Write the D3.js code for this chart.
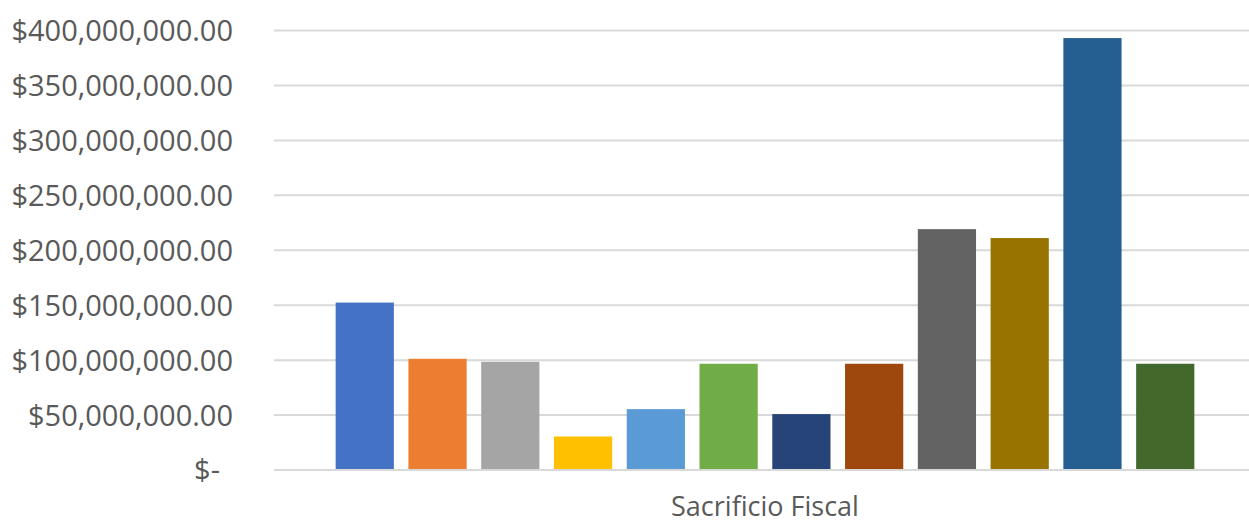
<!DOCTYPE html>
<html lang="es">
<head>
    <meta charset="UTF-8">
    <title>Sacrificio Fiscal</title>
    <style>
        body { margin: 0; background: #fff; }
        svg { display: block; }
    </style>
</head>
<body>
<svg id="svgId"></svg>
<script src="https://cdn.jsdelivr.net/npm/d3@7/dist/d3.min.js"></script>
<script>

    // Data
    const categories = ['Sacrificio Fiscal']
    const seriesNames = ['Serie 1', 'Serie 2', 'Serie 3', 'Serie 4', 'Serie 5', 'Serie 6',
                         'Serie 7', 'Serie 8', 'Serie 9', 'Serie 10', 'Serie 11', 'Serie 12']
    const seriesValues = [152400000, 101200000, 98500000, 30500000, 55400000, 96700000,
                          50900000, 96700000, 219200000, 211100000, 393100000, 96700000]
    const seriesColors = ['#4472C4', '#ED7D31', '#A5A5A5', '#FFC000', '#5B9BD5', '#70AD47',
                          '#264478', '#9E480E', '#636363', '#997300', '#255E91', '#43682B']
    const yTicks = [0, 50000000, 100000000, 150000000, 200000000, 250000000, 300000000, 350000000, 400000000]

    // Svg dimensions
    const svgWidth = 1249
    const svgHeight = 524

    const plot = {left: 274, right: 1256, top: 30.5, bottom: 470}

    const svg = d3.select('#svgId')
        .attr('width', svgWidth)
        .attr('height', svgHeight)

    const font = "'Open Sans', sans-serif"
    const textColor = '#595959'

    // Scales
    const x0 = d3.scaleBand().domain(categories).range([plot.left, plot.right]).paddingOuter(0.0718)
    const x1 = d3.scaleBand().domain(seriesNames).range([0, x0.bandwidth()]).paddingInner(0.2)
    const yScale = d3.scaleLinear().domain([0, 400000000]).range([plot.bottom, plot.top])

    const money = d3.format(',.2f')
    const tickLabel = v => v === 0 ? '$-' : '$' + money(v)

    // Gridlines
    svg.append('g')
        .selectAll('line')
        .data(yTicks).enter()
        .append('line')
        .attr('x1', plot.left)
        .attr('x2', plot.right)
        .attr('y1', d => yScale(d))
        .attr('y2', d => yScale(d))
        .attr('stroke', '#d9d9d9')
        .attr('stroke-width', 2)

    // Y labels
    svg.append('g')
        .selectAll('text')
        .data(yTicks).enter()
        .append('text')
        .attr('x', d => d === 0 ? 220 : 233)
        .attr('y', d => yScale(d))
        .attr('dy', '0.36em')
        .attr('text-anchor', 'end')
        .attr('fill', textColor)
        .style('font-family', font)
        .style('font-size', '29px')
        .text(tickLabel)

    // Bars
    const rows = seriesNames.map((name, i) => ({name: name, value: seriesValues[i], color: seriesColors[i]}))

    svg.append('g')
        .selectAll('g')
        .data(categories).enter()
        .append('g')
        .attr('transform', d => `translate(${x0(d)},0)`)
        .selectAll('rect')
        .data(rows).enter()
        .append('rect')
        .attr('x', d => x1(d.name))
        .attr('y', d => yScale(d.value))
        .attr('width', x1.bandwidth())
        .attr('height', d => yScale(0) - yScale(d.value) - 1)
        .attr('fill', d => d.color)

    // Category label
    svg.append('g')
        .selectAll('text')
        .data(categories).enter()
        .append('text')
        .attr('x', d => x0(d) + x0.bandwidth() / 2)
        .attr('y', 516)
        .attr('text-anchor', 'middle')
        .attr('fill', textColor)
        .style('font-family', font)
        .style('font-size', '27px')
        .text(d => d)

</script>
</body>
</html>
